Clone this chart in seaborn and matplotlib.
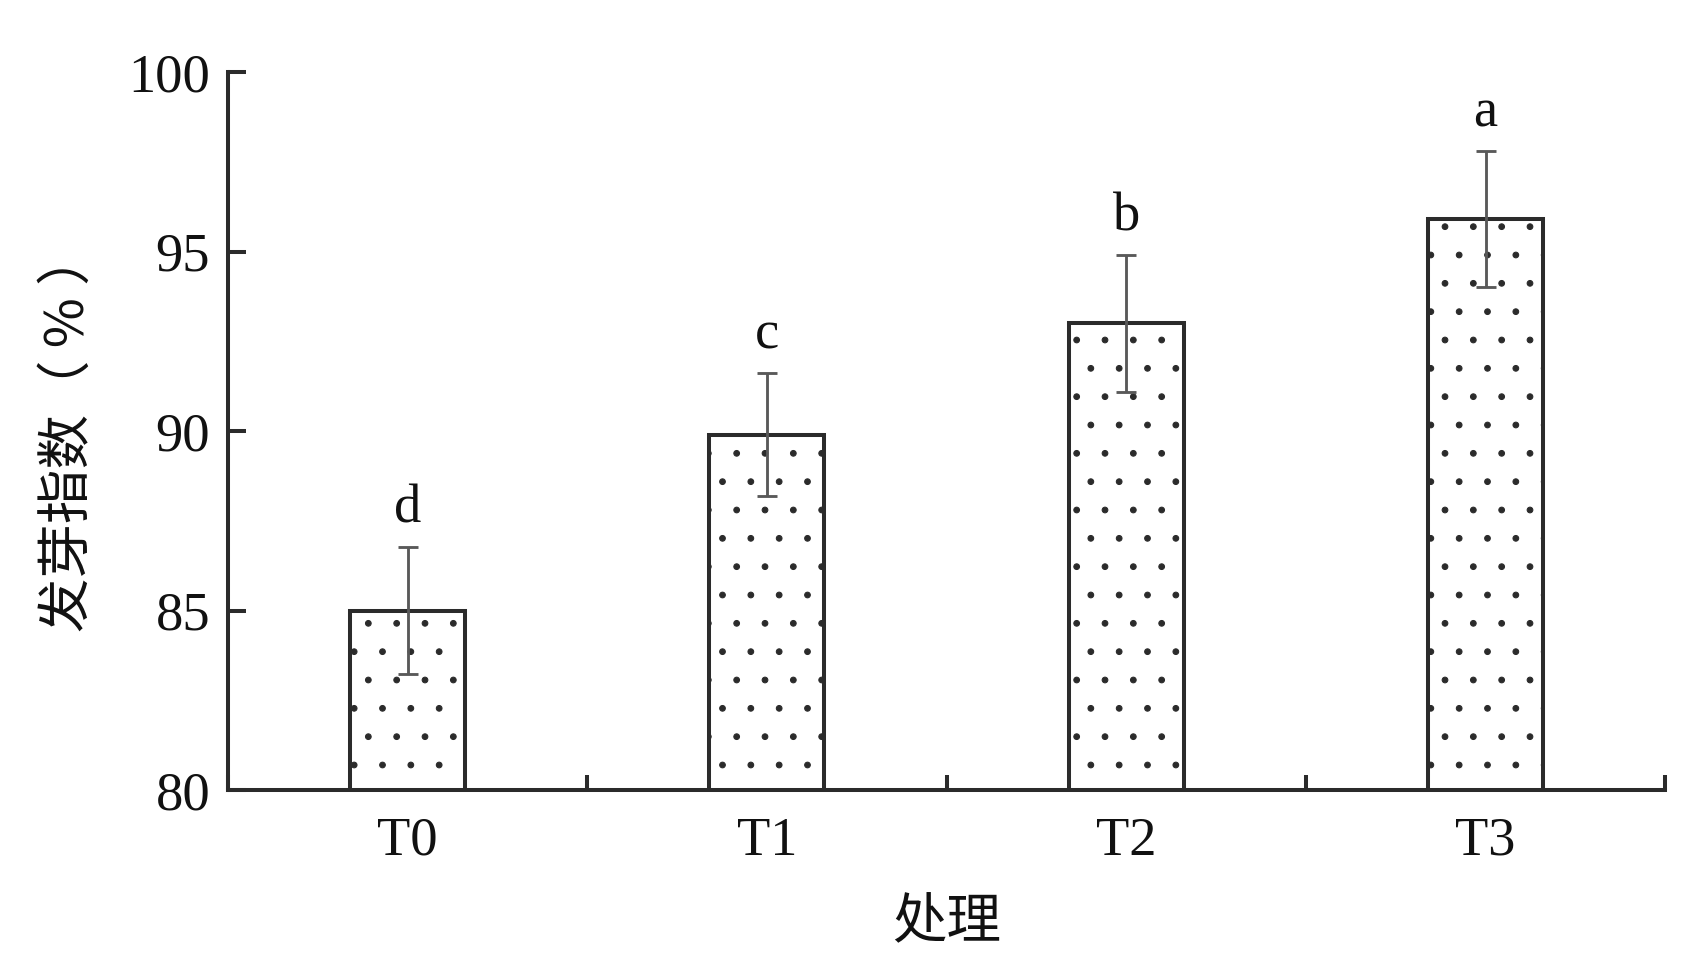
import numpy as np
import pandas as pd
import matplotlib
matplotlib.use("Agg")
import matplotlib.pyplot as plt
from matplotlib.ticker import FixedLocator
import seaborn as sns

# values
treatments = ["T0", "T1", "T2", "T3"]
germ_index = [85.0, 89.9, 93.0, 95.9]
germ_err = [1.77, 1.72, 1.9, 1.9]
sig_letters = ["d", "c", "b", "a"]
y_ticks = [80, 85, 90, 95, 100]

DPI = 170.5
EDGE = "#2b2b2b"
ERR = "#595959"

sns.set_theme(style="ticks")
plt.rcParams["font.family"] = ["Liberation Serif", "Noto Sans CJK SC"]
plt.rcParams["hatch.linewidth"] = 0.45
plt.rcParams["hatch.color"] = EDGE

df = pd.DataFrame({"treat": treatments, "value": germ_index, "err": germ_err})

fig = plt.figure(figsize=(1705 / DPI, 960 / DPI), dpi=DPI)
ax = fig.add_axes([0.1337, 0.177, 0.843, 0.748])

sns.barplot(data=df, x="treat", y="value", color="white", width=0.32,
            edgecolor=EDGE, linewidth=1.7, errorbar=None, ax=ax, zorder=2)
for p in ax.patches:
    p.set_facecolor("white")
    p.set_hatch(".")
    p.set_edgecolor(EDGE)

xpos = np.arange(len(treatments))
ax.errorbar(xpos, df["value"], yerr=df["err"], fmt="none", ecolor=ERR,
            elinewidth=1.2, capsize=4.3, capthick=1.2, zorder=3)

# significance letters above each error bar
for x, v, e, s in zip(xpos, df["value"], df["err"], sig_letters):
    ax.text(x, v + e + 0.35, s, ha="center", va="bottom", fontsize=23,
            family="Liberation Serif", color="#111111")

ax.set_ylim(80, 100)
ax.set_xlim(-0.5, len(treatments) - 0.5)
ax.set_yticks(y_ticks)
ax.set_yticklabels([str(t) for t in y_ticks])
ax.xaxis.set_minor_locator(FixedLocator(np.arange(-0.5, len(treatments), 1.0)))

ax.tick_params(axis="y", direction="in", length=7.8, width=1.7, color=EDGE,
               labelsize=23, pad=7.5, labelcolor="#111111")
ax.tick_params(axis="x", which="major", length=0, labelsize=23, pad=11,
               labelcolor="#111111")
ax.tick_params(axis="x", which="minor", direction="in", length=6.3,
               width=1.7, color=EDGE)

for side in ["top", "right"]:
    ax.spines[side].set_visible(False)
for side in ["left", "bottom"]:
    ax.spines[side].set_linewidth(1.7)
    ax.spines[side].set_color(EDGE)

ax.set_xlabel("处理", fontsize=23, family=["Noto Sans CJK SC"], labelpad=12,
              color="#111111")
ax.set_ylabel("发芽指数（ % ）", fontsize=23, family=["Noto Sans CJK SC"],
              color="#111111")
ax.yaxis.set_label_coords(-0.092, 0.50)

fig.savefig("out.png", dpi=DPI, facecolor="white")
